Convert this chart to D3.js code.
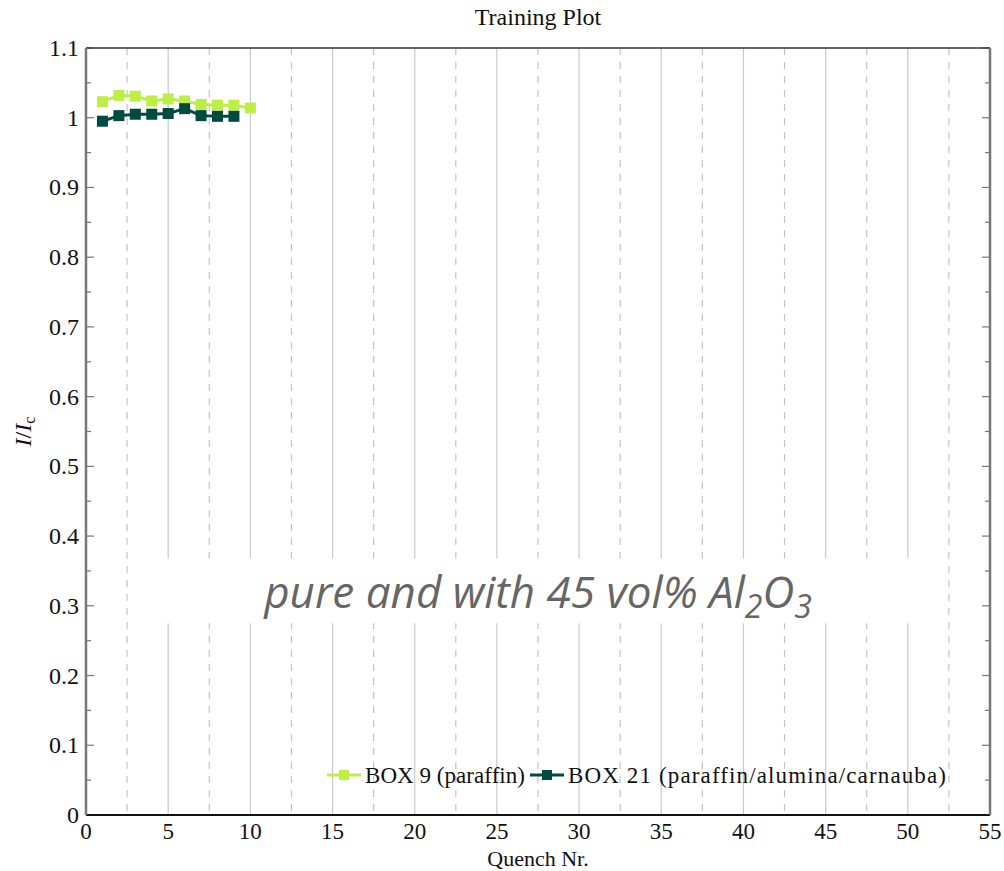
<!DOCTYPE html>
<html>
<head>
<meta charset="utf-8">
<script src="https://cdn.jsdelivr.net/npm/d3@7/dist/d3.min.js"></script>
<style>
  body { margin: 0; background: #fff; }
  svg text { font-family: "Liberation Serif", "DejaVu Serif", serif; fill: #111; }
</style>
</head>
<body>
<svg id="chart" width="1004" height="871"></svg>
<script>
// data
const quench = [1, 2, 3, 4, 5, 6, 7, 8, 9, 10];
const box9 = [1.023, 1.032, 1.031, 1.024, 1.027, 1.024, 1.019, 1.018, 1.018, 1.014];
const box21 = [0.995, 1.003, 1.005, 1.005, 1.006, 1.013, 1.003, 1.002, 1.002];
const seriesNames = ["BOX 9 (paraffin)", "BOX 21 (paraffin/alumina/carnauba)"];
const seriesColors = ["#bdee45", "#004a42"];
const xTicks = d3.range(0, 56, 5);
const yTicks = d3.range(0, 1.101, 0.1);

const svg = d3.select("#chart");
const margin = { top: 48, right: 14, bottom: 56, left: 86 };
const width = 1004 - margin.left - margin.right;
const height = 871 - margin.top - margin.bottom;

const x = d3.scaleLinear().domain([0, 55]).range([0, width]);
const y = d3.scaleLinear().domain([0, 1.1]).range([height, 0]);

const g = svg.append("g")
    .attr("transform", "translate(" + margin.left + "," + margin.top + ")");

// vertical grid: solid at major, dashed at minor
g.selectAll(".gmaj")
    .data(xTicks.filter(d => d > 0 && d < 55))
    .enter().append("line")
    .attr("x1", d => x(d)).attr("x2", d => x(d))
    .attr("y1", 0).attr("y2", height)
    .attr("stroke", "#c9c9c9").attr("stroke-width", 1.2);
g.selectAll(".gmin")
    .data(d3.range(2.5, 55, 5))
    .enter().append("line")
    .attr("x1", d => x(d)).attr("x2", d => x(d))
    .attr("y1", 0).attr("y2", height)
    .attr("stroke", "#c4c4c4").attr("stroke-width", 1.2)
    .attr("stroke-dasharray", "7,7");

// white box behind annotation
g.append("rect")
    .attr("x", x(3.3)).attr("y", y(0.368))
    .attr("width", x(51.3) - x(3.3)).attr("height", y(0.275) - y(0.368))
    .attr("fill", "#fff");

// y ticks on left and right, pointing inwards
const yMinor = d3.range(0.05, 1.1, 0.1);
[0, width].forEach(function (xp) {
    const dir = xp === 0 ? 1 : -1;
    g.selectAll(null).data(yTicks).enter().append("line")
        .attr("x1", xp).attr("x2", xp + dir * 8)
        .attr("y1", d => y(d)).attr("y2", d => y(d))
        .attr("stroke", "#777").attr("stroke-width", 1.2);
    g.selectAll(null).data(yMinor).enter().append("line")
        .attr("x1", xp).attr("x2", xp + dir * 5)
        .attr("y1", d => y(d)).attr("y2", d => y(d))
        .attr("stroke", "#777").attr("stroke-width", 1.2);
});

// frame
g.append("line").attr("x1", 0).attr("x2", width).attr("y1", 0).attr("y2", 0)
    .attr("stroke", "#333").attr("stroke-width", 1.5);
g.append("line").attr("x1", 0).attr("x2", width).attr("y1", height).attr("y2", height)
    .attr("stroke", "#111").attr("stroke-width", 2);
g.append("line").attr("x1", 0).attr("x2", 0).attr("y1", 0).attr("y2", height)
    .attr("stroke", "#777").attr("stroke-width", 2.5);
g.append("line").attr("x1", width).attr("x2", width).attr("y1", 0).attr("y2", height)
    .attr("stroke", "#777").attr("stroke-width", 2.5);

// tick labels
g.selectAll(".ylab").data(yTicks).enter().append("text")
    .attr("x", -7).attr("y", d => y(d) + 8)
    .attr("text-anchor", "end").attr("font-size", 24)
    .text(d => d === 0 ? "0" : (Math.abs(d - 1) < 1e-9 ? "1" : d3.format(".1f")(d)));
g.selectAll(".xlab").data(xTicks).enter().append("text")
    .attr("x", d => x(d)).attr("y", height + 24)
    .attr("text-anchor", "middle").attr("font-size", 23)
    .text(d => d);

// titles
svg.append("text").attr("x", margin.left + width / 2).attr("y", 25)
    .attr("text-anchor", "middle").attr("font-size", 24).text("Training Plot");
svg.append("text").attr("x", margin.left + width / 2).attr("y", 866)
    .attr("text-anchor", "middle").attr("font-size", 22).text("Quench Nr.");
const yl = svg.append("text")
    .attr("transform", "translate(31," + (margin.top + height / 2) + ") rotate(-90)")
    .attr("text-anchor", "middle").attr("font-size", 24).attr("font-style", "italic");
yl.append("tspan").text("I");
yl.append("tspan").attr("font-style", "normal").text("/");
yl.append("tspan").text("I");
yl.append("tspan").attr("font-size", 16).attr("font-style", "normal").attr("dy", 4).text("c");

// series
const line = d3.line().x(d => x(d[0])).y(d => y(d[1]));
[box9, box21].forEach(function (vals, i) {
    const pts = vals.map((v, j) => [quench[j], v]);
    g.append("path").datum(pts)
        .attr("d", line).attr("fill", "none")
        .attr("stroke", seriesColors[i]).attr("stroke-width", 3);
    g.selectAll(null).data(pts).enter().append("rect")
        .attr("x", d => x(d[0]) - 5.5).attr("y", d => y(d[1]) - 5.5)
        .attr("width", 11).attr("height", 11)
        .attr("fill", seriesColors[i]);
});

// annotation
const ann = g.append("text")
    .attr("x", x(27.5)).attr("y", y(0.3) + 2)
    .attr("text-anchor", "middle")
    .style("font-family", "'Open Sans', sans-serif")
    .style("fill", "#666").style("font-style", "italic")
    .attr("font-size", 44);
ann.append("tspan").text("pure and with 45 vol% Al");
ann.append("tspan").attr("font-size", 32).attr("dy", 10).text("2");
ann.append("tspan").attr("dy", -10).text("O");
ann.append("tspan").attr("font-size", 32).attr("dy", 10).text("3");

// legend (text widths stretched a bit to match the wider TeX font)
const legendWidths = [160, 378];
const legend = g.append("g").attr("transform", "translate(" + (327 - margin.left) + "," + (775 - margin.top) + ")");
let lx = 0;
seriesNames.forEach(function (name, i) {
    legend.append("line").attr("x1", lx).attr("x2", lx + 34).attr("y1", 0).attr("y2", 0)
        .attr("stroke", seriesColors[i]).attr("stroke-width", 3);
    legend.append("rect").attr("x", lx + 12).attr("y", -5).attr("width", 10).attr("height", 10)
        .attr("fill", seriesColors[i]);
    legend.append("text").attr("x", lx + 38).attr("y", 8).attr("font-size", 23)
        .attr("textLength", legendWidths[i]).attr("lengthAdjust", "spacing")
        .text(name);
    lx += 38 + legendWidths[i] + 5;
});
</script>
</body>
</html>
